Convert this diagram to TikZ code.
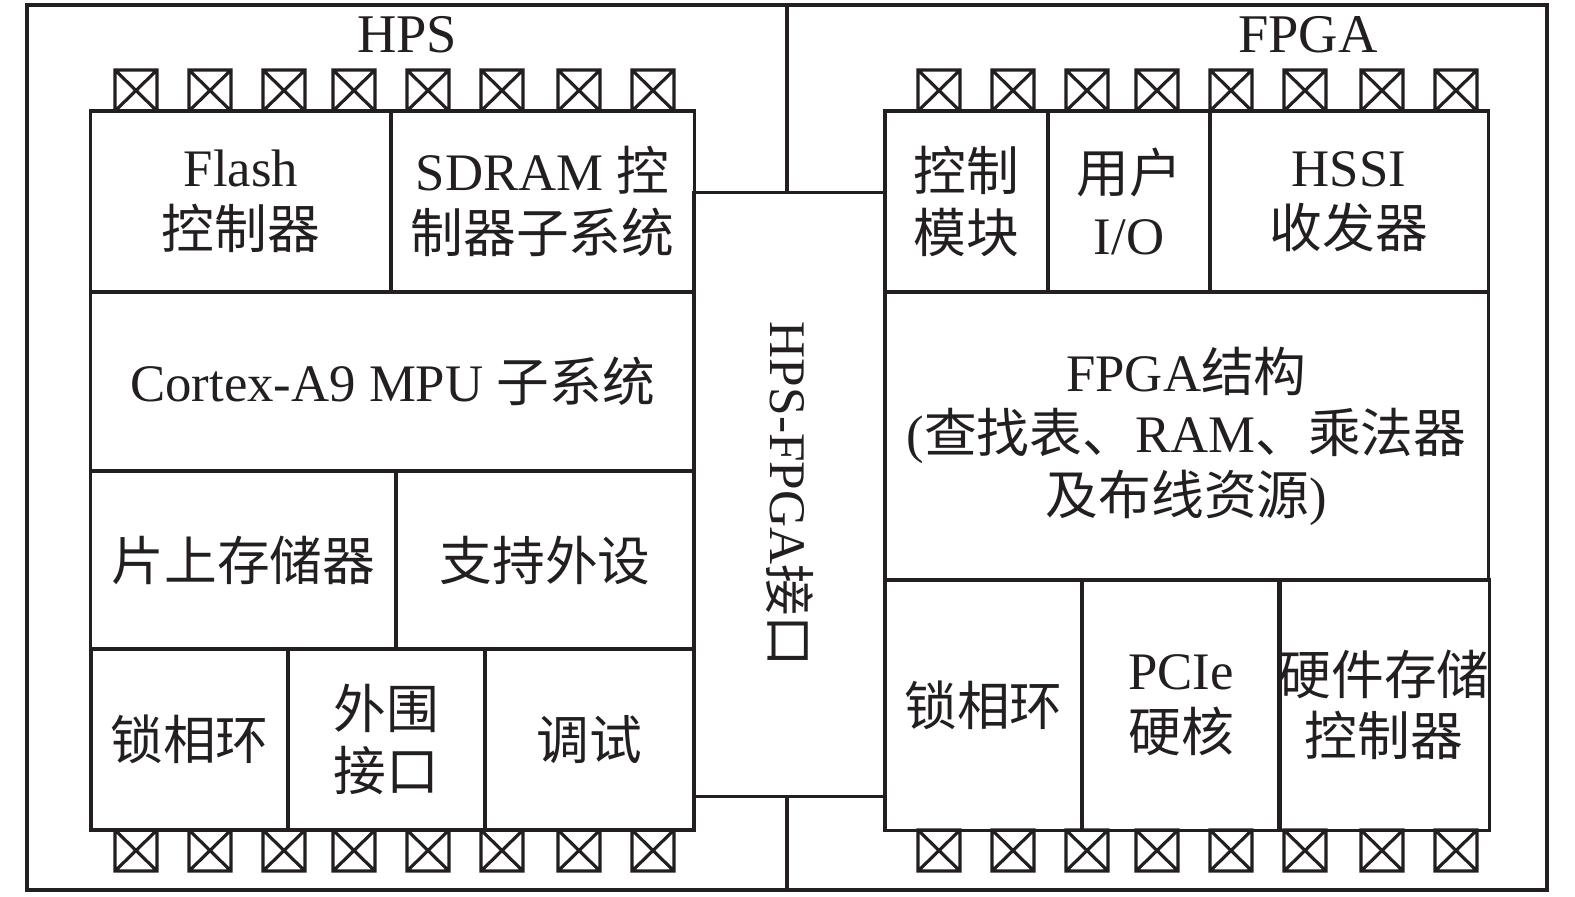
\documentclass[tikz,border=0pt]{standalone}
\usepackage{fontspec}
\setmainfont{Liberation Serif}
\newfontfamily\cjk{Noto Sans CJK SC}
\usepackage{xcolor}
\definecolor{ink}{HTML}{231F20}
\tikzset{
  frame/.style={draw=ink, line width=0.9pt},
  cell/.style={draw=ink, line width=0.9pt, text=ink, align=center, inner sep=0pt,
    font=\fontsize{15}{17.5}\selectfont},
  label/.style={text=ink, inner sep=0pt, font=\fontsize{15.5}{18}\selectfont},
  pin/.style={draw=ink, line width=0.9pt},
}

\begin{document}
\begin{tikzpicture}[x=0.01cm, y=-0.01cm]
  \useasboundingbox (0,0) rectangle (1575,896);

  % chip outline
  \draw[frame] (27,5) rectangle (1547,890);
  \coordinate (topmid) at (787,5);
  \coordinate (botmid) at (787,890);
  \node[label] (hpslbl) at (407,35) {HPS};
  \node[label] (fpgalbl) at (1308,35) {FPGA};

  % HPS side
  \node[cell, minimum width=3.00cm, minimum height=1.81cm] (flash) at (241,201.5)
    {Flash\\{\cjk 控制器}};
  \node[cell, minimum width=3.03cm, minimum height=1.81cm] (sdram) at (542.5,201.5)
    {SDRAM {\cjk 控}\\{\cjk 制器子系统}};
  \node[cell, minimum width=6.03cm, minimum height=1.79cm] (mpu) at (392.5,381.5)
    {Cortex-A9 MPU {\cjk 子系统}};
  \node[cell, minimum width=3.05cm, minimum height=1.78cm] (ocram) at (243.5,560)
    {\cjk 片上存储器};
  \node[cell, minimum width=2.98cm, minimum height=1.78cm] (periph) at (545,560)
    {\cjk 支持外设};
  \node[cell, minimum width=1.97cm, minimum height=1.81cm] (hpspll) at (189.5,739.5)
    {\cjk 锁相环};
  \node[cell, minimum width=1.97cm, minimum height=1.81cm] (extif) at (386.5,739.5)
    {{\cjk 外围}\\{\cjk 接口}};
  \node[cell, minimum width=2.09cm, minimum height=1.81cm] (debug) at (589.5,739.5)
    {\cjk 调试};

  % FPGA side
  \node[cell, minimum width=1.63cm, minimum height=1.81cm] (ctrl) at (966.5,201.5)
    {{\cjk 控制}\\{\cjk 模块}};
  \node[cell, minimum width=1.62cm, minimum height=1.81cm] (userio) at (1129,201.5)
    {{\cjk 用户}\\I/O};
  \node[cell, minimum width=2.78cm, minimum height=1.81cm] (hssi) at (1349,201.5)
    {HSSI\\{\cjk 收发器}};
  \node[cell, minimum width=6.03cm, minimum height=2.88cm] (fabric) at (1186.5,436)
    {FPGA{\cjk 结构}\\({\cjk 查找表、}RAM{\cjk 、乘法器}\\{\cjk 及布线资源})};
  \node[cell, minimum width=1.97cm, minimum height=2.50cm] (fpgapll) at (983.5,705)
    {\cjk 锁相环};
  \node[cell, minimum width=1.98cm, minimum height=2.50cm] (pcie) at (1181,705)
    {PCIe\\{\cjk 硬核}};
  \node[cell, minimum width=2.08cm, minimum height=2.50cm] (hmc) at (1384,705)
    {{\cjk 硬件存储}\\{\cjk 控制器}};

  % bridge between the two halves
  \node[cell, minimum width=1.91cm, minimum height=6.03cm] (iface) at (789.5,494.5) {};
  \node[label, rotate=-90, font=\fontsize{14.6}{17}\selectfont] (ifacelbl) at (iface.center)
    {HPS-FPGA{\cjk 接口}};
  \draw[frame] (topmid) -- (topmid |- iface.north);
  \draw[frame] (botmid |- iface.south) -- (botmid);

  % I/O pins, top and bottom of both halves
  \foreach \px in {136,210,284,354,428,502,579,653}
    \foreach \dx in {0,803}
      \foreach \py in {70,830}
        \draw[pin] (\px+\dx-21,\py) rectangle (\px+\dx+21,\py+41)
          (\px+\dx-21,\py) -- (\px+\dx+21,\py+41)
          (\px+\dx-21,\py+41) -- (\px+\dx+21,\py);
\end{tikzpicture}
\end{document}
